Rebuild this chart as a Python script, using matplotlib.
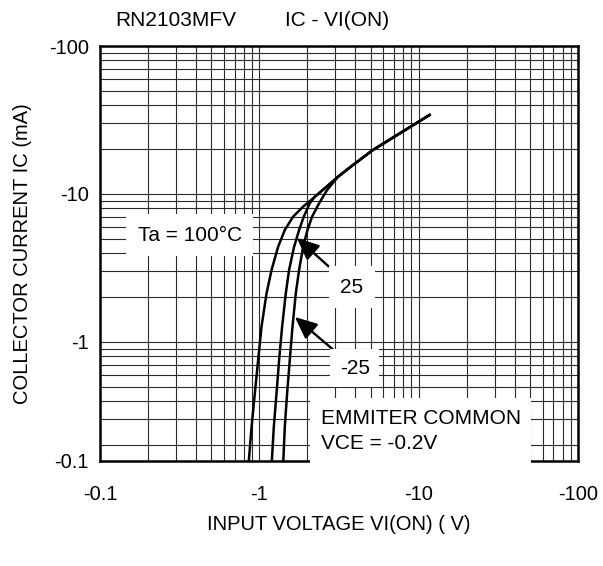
import matplotlib.pyplot as plt
from matplotlib.ticker import FixedLocator, NullFormatter

plt.rcParams["font.family"] = ["Liberation Sans", "DejaVu Sans"]

# axis ticks (the scanned chart's bottom edge is labelled -0.1)
X_TICKS = [0.1, 1, 10, 100]
X_TICK_LABELS = ["-0.1", "-1", "-10", "-100"]
Y_TICKS = [0.157, 1, 10, 100]
Y_TICK_LABELS = ["-0.1", "-1", "-10", "-100"]

# curves: input voltage (V) / collector current (mA)
VI_100 = [0.859, 0.894, 0.937, 0.983, 1.032, 1.110, 1.193, 1.312, 1.445,
          1.629, 1.883, 2.175, 2.575, 3.119, 3.873, 5.15, 11.7]
IC_100 = [0.157, 0.268, 0.450, 0.756, 1.269, 2.133, 3.065, 4.40, 5.71,
          7.03, 8.21, 9.35, 10.93, 13.09, 15.70, 19.8, 34.2]
VI_25 = [1.198, 1.233, 1.282, 1.331, 1.390, 1.466, 1.537, 1.653, 1.776,
         1.901, 2.073, 2.228, 2.575, 3.119, 3.873, 5.15, 11.7]
IC_25 = [0.157, 0.268, 0.450, 0.756, 1.269, 2.133, 3.065, 4.40, 5.71,
         7.03, 8.65, 9.59, 10.93, 13.09, 15.70, 19.8, 34.2]
VI_M25 = [1.414, 1.445, 1.494, 1.553, 1.615, 1.694, 1.776, 1.883, 2.005,
          2.143, 2.372, 2.662, 3.119, 3.873, 5.15, 11.7]
IC_M25 = [0.157, 0.268, 0.450, 0.756, 1.269, 2.133, 3.065, 4.40, 5.71,
          7.03, 8.65, 10.64, 13.09, 15.70, 19.8, 34.2]

MINOR_X = [m * 10.0 ** e for e in (-1, 0, 1) for m in range(2, 10)]
MINOR_Y = [m * 10.0 ** e for e in (-1, 0, 1) for m in range(2, 10)]

W, H = 603, 566
fig = plt.figure(figsize=(W / 100, H / 100), dpi=100)
ax = fig.add_axes([100 / W, 1 - 461 / H, 478 / W, 415 / H])

ax.set_xscale("log")
ax.set_yscale("log")
ax.set_xlim(X_TICKS[0], X_TICKS[-1])
ax.set_ylim(Y_TICKS[0], Y_TICKS[-1])

ax.xaxis.set_major_locator(FixedLocator(X_TICKS))
ax.xaxis.set_minor_locator(FixedLocator(MINOR_X))
ax.yaxis.set_major_locator(FixedLocator(Y_TICKS))
ax.yaxis.set_minor_locator(FixedLocator(MINOR_Y))
ax.set_xticklabels(X_TICK_LABELS)
ax.set_yticklabels(Y_TICK_LABELS)
ax.xaxis.set_minor_formatter(NullFormatter())
ax.yaxis.set_minor_formatter(NullFormatter())
ax.tick_params(which="both", length=0, labelsize=14.5)
ax.tick_params(axis="x", pad=17)
ax.tick_params(axis="y", pad=8)

ax.set_axisbelow(True)
ax.grid(which="both", color="#2a2a2a", linewidth=0.8)
for spine in ax.spines.values():
    spine.set_linewidth(1.8)

for vi, ic in ((VI_100, IC_100), (VI_25, IC_25), (VI_M25, IC_M25)):
    ax.plot(vi, ic, color="black", linewidth=1.8, solid_joinstyle="round", zorder=4)

box = dict(boxstyle="square,pad=0.45", facecolor="white", edgecolor="none")
arrow = dict(arrowstyle="-|>,head_length=0.9,head_width=0.4",
             color="black", linewidth=1.7, shrinkA=0, shrinkB=0)
ax.text(0.367, 5.28, "Ta = 100°C", fontsize=15, ha="center", va="center",
        bbox=dict(box, boxstyle="square,pad=0.55"), zorder=3)
ax.annotate("25", xy=(1.72, 5.05), xytext=(3.80, 2.35), fontsize=15,
            ha="center", va="center", bbox=dict(box, boxstyle="square,pad=0.55"),
            zorder=3, arrowprops=arrow)
ax.annotate("-25", xy=(1.67, 1.475), xytext=(3.97, 0.667), fontsize=15,
            ha="center", va="center", bbox=dict(box, boxstyle="square,pad=0.45"),
            zorder=3, arrowprops=arrow)
ax.text(2.43, 0.252, "EMMITER COMMON\nVCE = -0.2V", fontsize=15, ha="left", va="center",
        linespacing=1.4, bbox=dict(box, boxstyle="square,pad=0.5"), zorder=3)

ax.set_xlabel("INPUT VOLTAGE VI(ON) ( V)", fontsize=14.5, labelpad=8)
ax.set_ylabel("COLLECTOR CURRENT IC (mA)", fontsize=14.5, labelpad=12)

fig.text(115 / W, 1 - 20 / H, "RN2103MFV", fontsize=15, ha="left", va="center")
fig.text(285 / W, 1 - 20 / H, "IC - VI(ON)", fontsize=15, ha="left", va="center")

fig.savefig("out.png", dpi=100)
